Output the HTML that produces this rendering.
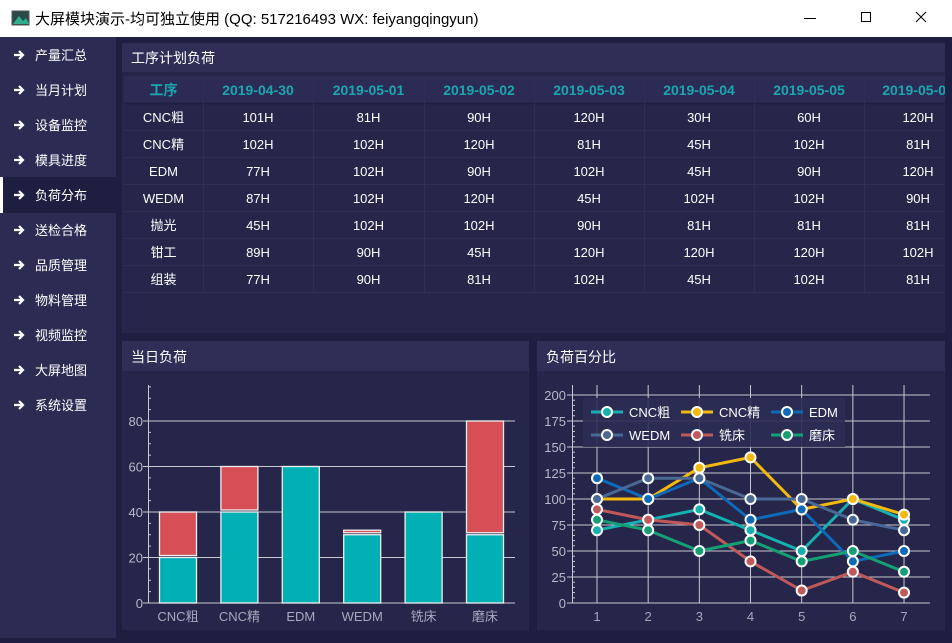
<!DOCTYPE html>
<html><head><meta charset="utf-8"><style>
body{margin:0;width:952px;height:638px;overflow:hidden;background:#1e1f40;font-family:"Liberation Sans","Noto Sans CJK SC",sans-serif}
svg text{font-family:"Liberation Sans","Noto Sans CJK SC",sans-serif}
</style></head><body>
<svg id="s" width="952" height="638" xmlns="http://www.w3.org/2000/svg">
<rect x="0" y="0" width="952" height="638" fill="#1e1f40"/>
<!-- title bar -->
<rect x="0" y="0" width="952" height="37" fill="#ffffff"/>
<rect x="12" y="11" width="17" height="14" fill="#2a4a4a" stroke="#555" stroke-width="1"/>
<path d="M13 24 L19 16 L23 21 L26 18 L29 24Z" fill="#2fb08a"/>
<text x="35" y="24" font-size="15" fill="#000">大屏模块演示-均可独立使用 (QQ: 517216493  WX: feiyangqingyun)</text>
<line x1="804" y1="18.5" x2="816" y2="18.5" stroke="#000"/>
<rect x="861.5" y="12.5" width="9" height="9" fill="none" stroke="#000"/>
<path d="M916 12 L926 22 M926 12 L916 22" stroke="#000"/>
<!-- sidebar -->
<rect x="0" y="37" width="116" height="601" fill="#2c2b53"/>
<rect x="0" y="177" width="116" height="36" fill="#1e1f40"/>
<rect x="0" y="177" width="3" height="36" fill="#ffffff"/>
<g id="side" font-size="13" fill="#fff"></g>
<!-- top panel -->
<rect x="122" y="43" width="823" height="290" fill="#252649"/>
<rect x="122" y="43" width="823" height="29" fill="#2f2e57"/>
<text x="131" y="63" font-size="14" fill="#fff">工序计划负荷</text>
<g id="tbl"></g>
<!-- bottom left -->
<rect x="122" y="341" width="407" height="289" fill="#252649"/>
<rect x="122" y="341" width="407" height="30" fill="#2f2e57"/>
<text x="131" y="362" font-size="14" fill="#fff">当日负荷</text>
<g id="bar"></g>
<!-- bottom right -->
<rect x="537" y="341" width="408" height="289" fill="#252649"/>
<rect x="537" y="341" width="408" height="30" fill="#2f2e57"/>
<text x="546" y="362" font-size="14" fill="#fff">负荷百分比</text>
<g id="line"></g>
</svg>
<script>
var NS="http://www.w3.org/2000/svg";
function el(p,t,a,txt){var e=document.createElementNS(NS,t);for(var k in a)e.setAttribute(k,a[k]);if(txt!==undefined)e.textContent=txt;document.getElementById(p).appendChild(e);return e;}
var items=["产量汇总","当月计划","设备监控","模具进度","负荷分布","送检合格","品质管理","物料管理","视频监控","大屏地图","系统设置"];
items.forEach(function(t,i){var y=55+35*i;
el("side","path",{d:"M14 "+(y)+" L23 "+y+" M19 "+(y-4)+" L23 "+y+" L19 "+(y+4),stroke:"#fff","stroke-width":"2.2",fill:"none"});
el("side","text",{x:35,y:y+5},t);});
// table
var cols=[124,203,313,424,534,644,754,864,945];
var hdr=["工序","2019-04-30","2019-05-01","2019-05-02","2019-05-03","2019-05-04","2019-05-05","2019-05-06"];
var rows=[["CNC粗","101H","81H","90H","120H","30H","60H","120H"],["CNC精","102H","102H","120H","81H","45H","102H","81H"],["EDM","77H","102H","90H","102H","45H","90H","120H"],["WEDM","87H","102H","120H","45H","102H","102H","90H"],["抛光","45H","102H","102H","90H","81H","81H","81H"],["钳工","89H","90H","45H","120H","120H","120H","102H"],["组装","77H","90H","81H","102H","45H","102H","81H"]];
el("tbl","rect",{x:124,y:76,width:821,height:27,fill:"#2c2b55"});
el("tbl","line",{x1:124,y1:103.5,x2:945,y2:103.5,stroke:"#1f2044","stroke-width":2});
for(var r=0;r<7;r++){el("tbl","line",{x1:124,y1:130.5+27*r,x2:945,y2:130.5+27*r,stroke:"#2e2f57"});}
for(var c=1;c<8;c++){el("tbl","line",{x1:cols[c]+.5,y1:76,x2:cols[c]+.5,y2:292,stroke:"#2e2f57"});}
var cp=document.createElementNS(NS,"clipPath");cp.id="tc";var cr=document.createElementNS(NS,"rect");cr.setAttribute("x",124);cr.setAttribute("y",70);cr.setAttribute("width",821);cr.setAttribute("height",230);cp.appendChild(cr);document.getElementById("s").appendChild(cp);
var g=el("tbl","g",{"clip-path":"url(#tc)",id:"tg"});
hdr.forEach(function(h,c){var cx=c==7?918:(cols[c]+cols[c+1])/2;el("tg","text",{x:cx,y:95,"text-anchor":"middle","font-size":"14","font-weight":"bold",fill:"#1ba6ae"},h);});
rows.forEach(function(row,r){row.forEach(function(v,c){var cx=c==7?918:(cols[c]+cols[c+1])/2;el("tg","text",{x:cx,y:122+27*r,"text-anchor":"middle","font-size":"13",fill:"#fff"},v);});});
// bar chart
var gc="#c8c8d0";
function BY(v){return 603-v*2.275;}
for(var v=0;v<=80;v+=20){el("bar","line",{x1:148,y1:BY(v),x2:515,y2:BY(v),stroke:gc,"stroke-width":1});el("bar","text",{x:143,y:BY(v)+5,"text-anchor":"end","font-size":"13",fill:"#b8b8c8"},v);}
el("bar","line",{x1:148.5,y1:385,x2:148.5,y2:603,stroke:gc});
for(var v=0;v<=95;v+=5){el("bar","line",{x1:148,y1:BY(v),x2:v%20==0?143:151,y2:BY(v),stroke:gc});}
var cats=["CNC粗","CNC精","EDM","WEDM","铣床","磨床"],a=[20,40,60,30,40,30],b=[20,20,0,2,0,50];
cats.forEach(function(t,i){var cx=178+61.4*i;
el("bar","rect",{x:cx-18.5,y:BY(a[i]),width:37,height:a[i]*2.275,fill:"#00b0b5",stroke:"#f0f0f0","stroke-width":1.3});
if(b[i])el("bar","rect",{x:cx-18.5,y:BY(a[i]+b[i]),width:37,height:b[i]*2.275-2,fill:"#d64f57",stroke:"#f0f0f0","stroke-width":1.3});
el("bar","text",{x:cx,y:621,"text-anchor":"middle","font-size":"13",fill:"#a8a8bc"},t);});
// line chart
function LX(i){return 597+51.17*i;}function LY(v){return 603-v*1.04;}
for(var v=0;v<=200;v+=25){el("line","line",{x1:572,y1:LY(v),x2:930,y2:LY(v),stroke:gc});el("line","text",{x:566,y:LY(v)+5,"text-anchor":"end","font-size":"13",fill:"#b8b8c8"},v);}
for(var i=0;i<7;i++){el("line","line",{x1:LX(i),y1:385,x2:LX(i),y2:603,stroke:gc});el("line","text",{x:LX(i),y:621,"text-anchor":"middle","font-size":"13",fill:"#a8a8bc"},i+1);}
el("line","line",{x1:572.5,y1:385,x2:572.5,y2:603,stroke:gc});
for(var v=0;v<=200;v+=5){el("line","line",{x1:572,y1:LY(v),x2:v%25==0?567:575,y2:LY(v),stroke:gc});}
el("line","rect",{x:583,y:398,width:262,height:49,fill:"#2c2d55",opacity:0.9});
var S=[["CNC粗","#16b0b0",[70,80,90,70,50,100,80]],["CNC精","#f5b90e",[100,100,130,140,90,100,85]],["EDM","#0e6ab8",[120,100,120,80,90,40,50]],["WEDM","#4a6895",[100,120,120,100,100,80,70]],["铣床","#c05a5a",[90,80,75,40,12,30,10]],["磨床","#14a074",[80,70,50,60,40,50,30]]];
S.forEach(function(s){var d=s[2].map(function(v,i){return (i?"L":"M")+LX(i)+" "+LY(v);}).join(" ");el("line","path",{d:d,stroke:s[1],"stroke-width":3,fill:"none"});});
S.forEach(function(s){s[2].forEach(function(v,i){el("line","circle",{cx:LX(i),cy:LY(v),r:5,fill:s[1],stroke:"#fff","stroke-width":2});});});
S.forEach(function(s,k){var x=591+90*(k%3),y=412+23*Math.floor(k/3);
el("line","line",{x1:x,y1:y,x2:x+32,y2:y,stroke:s[1],"stroke-width":3});
el("line","circle",{cx:x+16,cy:y,r:5,fill:s[1],stroke:"#fff","stroke-width":2});
el("line","text",{x:x+38,y:y+5,"font-size":"13",fill:"#fff"},s[0]);});
</script>
</body></html>
